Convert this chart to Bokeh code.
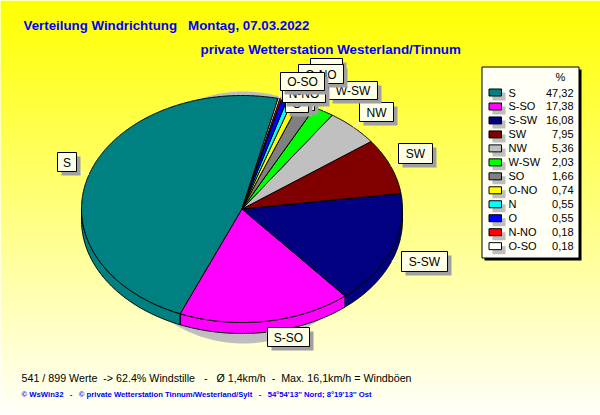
import numpy as np
from bokeh.plotting import figure
from bokeh.core.properties import value
from bokeh.embed import file_html
from bokeh.resources import INLINE

categories = ["S", "S-SO", "S-SW", "SW", "NW", "W-SW", "SO", "O-NO", "N", "O", "N-NO", "O-SO"]
percent = [47.32, 17.38, 16.08, 7.95, 5.36, 2.03, 1.66, 0.74, 0.55, 0.55, 0.18, 0.18]
percent_labels = ["47,32", "17,38", "16,08", "7,95", "5,36", "2,03", "1,66", "0,74", "0,55", "0,55", "0,18", "0,18"]
colors = ["#008080", "#FF00FF", "#000080", "#800000", "#C0C0C0", "#00FF00",
          "#808080", "#FFFF00", "#00FFFF", "#0000FF", "#FF0000", "#FFFFFF"]

title_1 = "Verteilung Windrichtung\u00a0\u00a0\u00a0Montag, 07.03.2022"
title_2 = "private Wetterstation Westerland/Tinnum"
info = "541 / 899 Werte \u00a0-> 62.4% Windstille \u00a0 - \u00a0 \u00d8 1,4km/h \u00a0- \u00a0Max. 16,1km/h = Windb\u00f6en"
footer = "\u00a9 WsWin32 \u00a0 - \u00a0 \u00a9 private Wetterstation Tinnum/Westerland/Sylt \u00a0 - \u00a0 54\u00b054'13'' Nord; 8\u00b019'13'' Ost"

# layout (pixels of the 600x415 canvas)
W, H = 600, 415
CX, CY, RX, RY, DEPTH = 241.5, 208.5, 160.5, 113.5, 11
START = 77.0
LABEL_BOX = {  # left, top, right, bottom
    "S": (57, 152, 76, 171), "S-SO": (267, 327, 309, 346), "S-SW": (401, 251, 447, 271),
    "SW": (398, 143, 432, 163), "NW": (359, 102, 393, 121), "W-SW": (328, 81, 377, 99),
    "SO": (310, 58, 342, 77), "O-NO": (298, 64, 343, 83), "N": (295, 93, 314, 110),
    "O": (285, 93, 308, 112), "N-NO": (282, 84, 325, 102), "O-SO": (280, 72, 324, 90),
}

p = figure(width=W, height=H, x_range=(0, W), y_range=(H, 0), output_backend="svg",
           toolbar_location=None, min_border=0, outline_line_color=None,
           x_axis_type=None, y_axis_type=None)
p.grid.visible = False

# background gradient
rows = np.arange(H)
b = 250 * rows / (H - 1)
p.quad(left=0, right=W, top=rows, bottom=rows + 1.5,
       fill_color=[f"#ffff{int(bb):02x}" for bb in b], line_color=None)

def ell(t, dy=0.0):
    t = np.radians(t)
    return CX + RX * np.cos(t), CY - RY * np.sin(t) + dy

# soft shadow of the pie
ts = np.linspace(0, 360, 361)
p.patch(243 + 130 * np.cos(np.radians(ts)), 217 + 126 * np.sin(np.radians(ts)),
        fill_color="#BEBEBE", line_color=None)

total = sum(percent)
edges = START + np.cumsum([0] + percent) / total * 360

# rim
for i, c in enumerate(colors):
    a, b_ = edges[i], edges[i + 1]
    for off in (0, 360):
        lo, hi = max(a, 180 + off), min(b_, 360 + off)
        if hi > lo:
            t = np.linspace(lo, hi, 90)
            x1, y1 = ell(t)
            x2, y2 = ell(t[::-1], DEPTH)
            p.patch(np.r_[x1, x2], np.r_[y1, y2], fill_color=c, line_color="black", line_width=1)

# top face
for i, c in enumerate(colors):
    t = np.linspace(edges[i], edges[i + 1], max(3, int(percent[i] * 8)))
    x, y = ell(t)
    p.patch(np.r_[CX, x], np.r_[CY, y], fill_color=c, line_color="black", line_width=1)

# callouts
for i, name in enumerate(categories):
    l, t, r, bt = LABEL_BOX[name]
    mid = (edges[i] + edges[i + 1]) / 2
    ex, ey = ell(mid, DEPTH if 180 < (mid % 360) < 360 else 0)
    ax = min(max(ex, l), r)
    ay = min(max(ey, t), bt)
    p.line([ex, ax], [ey, ay], line_color="white", line_width=1)
    p.quad(left=l + 4, right=r + 4, top=t + 4, bottom=bt + 4, fill_color="#A0A0A0", line_color=None)
    p.quad(left=l, right=r, top=t, bottom=bt, fill_color="#FFFFE6", line_color="black", line_width=1)
    p.text(x=[(l + r) / 2], y=[(t + bt) / 2 + 0.5], text=[name], text_align="center", text_baseline="middle",
           text_font=value("Liberation Sans"), text_font_size="12px", text_color="black")

# legend
p.quad(left=484, right=581, top=69, bottom=260, fill_color="black", line_color=None)
p.quad(left=481.5, right=578.5, top=66.5, bottom=257.5, fill_color="#FFFFF5", line_color="black", line_width=1)
p.text(x=[560], y=[76], text=["%"], text_align="center", text_baseline="middle",
       text_font=value("Liberation Sans"), text_font_size="11px", text_color="black")
for i, name in enumerate(categories):
    yc = 92 + i * 13.97
    p.quad(left=492, right=505, top=yc, bottom=yc + 8, fill_color="#BEBEBE", line_color=None)
    p.quad(left=488.5, right=501, top=yc - 3.5, bottom=yc + 3.5, fill_color=colors[i], line_color="black", line_width=1)
    p.text(x=[508], y=[yc], text=[name], text_align="left", text_baseline="middle",
           text_font=value("Liberation Sans"), text_font_size="11px", text_color="black")
    p.text(x=[573], y=[yc], text=[percent_labels[i]], text_align="right", text_baseline="middle",
           text_font=value("Liberation Sans"), text_font_size="11px", text_color="black")

# texts
p.text(x=[23], y=[25], text=[title_1], text_baseline="middle", text_font=value("Liberation Sans"),
       text_font_size="13.3px", text_font_style="bold", text_color="#0000FF")
p.text(x=[200], y=[49], text=[title_2], text_baseline="middle", text_font=value("Liberation Sans"),
       text_font_size="13.4px", text_font_style="bold", text_color="#0000FF")
p.text(x=[21], y=[377], text=[info], text_baseline="middle", text_font=value("Liberation Sans"),
       text_font_size="10.7px", text_color="black")
p.text(x=[21], y=[394], text=[footer], text_baseline="middle", text_font=value("Liberation Sans"),
       text_font_size="7.7px", text_font_style="bold", text_color="#0000FF")

open("out.html", "w").write(file_html(p, INLINE))
